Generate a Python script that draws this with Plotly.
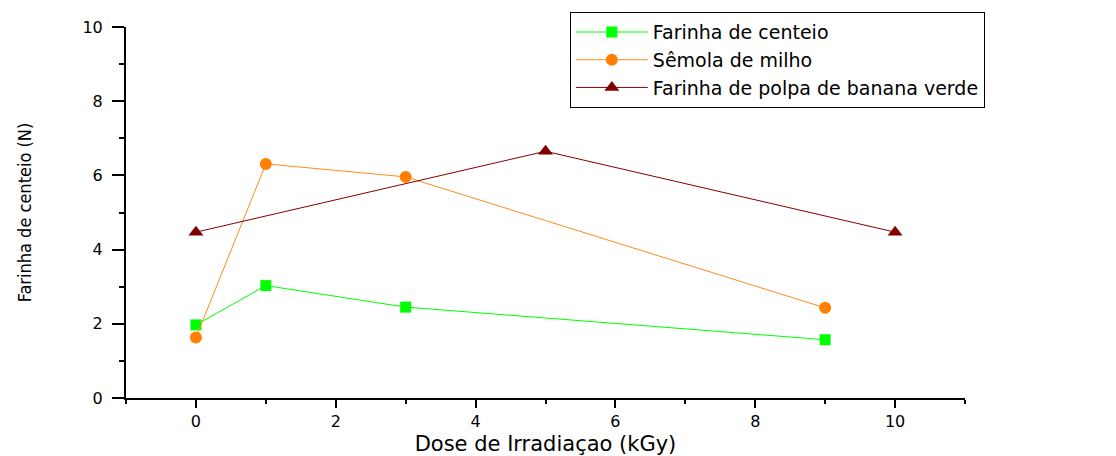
import plotly.graph_objects as go

dose_centeio = [0, 1, 3, 9]
val_centeio = [1.97, 3.03, 2.45, 1.57]

dose_milho = [0, 1, 3, 9]
val_milho = [1.63, 6.31, 5.96, 2.43]

dose_banana = [0, 5, 10]
val_banana = [4.47, 6.65, 4.47]

names = ["Farinha de centeio", "Sêmola de milho", "Farinha de polpa de banana verde"]
x_ticks = [0, 2, 4, 6, 8, 10]
y_ticks = [0, 2, 4, 6, 8, 10]

fig = go.Figure()
fig.add_trace(go.Scatter(x=dose_centeio, y=val_centeio, name=names[0], mode="lines+markers",
                         line=dict(color="#00ff00", width=1),
                         marker=dict(symbol="square", color="#00ff00", size=11)))
fig.add_trace(go.Scatter(x=dose_milho, y=val_milho, name=names[1], mode="lines+markers",
                         line=dict(color="#ff8c1a", width=1),
                         marker=dict(symbol="circle", color="#ff8000", size=12)))
fig.add_trace(go.Scatter(x=dose_banana, y=val_banana, name=names[2], mode="lines+markers",
                         line=dict(color="#800000", width=1),
                         marker=dict(symbol="triangle-up", color="#800000", size=13)))

tickfont = dict(family="DejaVu Sans", size=16, color="black")

fig.update_xaxes(range=[-1, 11], tickmode="array", tickvals=x_ticks, ticktext=[str(v) for v in x_ticks],
                 showline=True, linecolor="black", linewidth=2, ticks="outside",
                 ticklen=8, tickwidth=2, tickcolor="black", showgrid=False, zeroline=False,
                 tickfont=tickfont, automargin=False,
                 minor=dict(ticks="outside", ticklen=4, tickwidth=2, tickcolor="black",
                            tickmode="linear", tick0=-1, dtick=1, showgrid=False),
                 title=dict(text="Dose de Irradiaçao (kGy)",
                            font=dict(family="DejaVu Sans", size=21, color="black"), standoff=7))
fig.update_yaxes(range=[0, 10], tickmode="array", tickvals=y_ticks, ticktext=[str(v) for v in y_ticks],
                 showline=True, linecolor="black", linewidth=2, ticks="outside",
                 ticklen=12, tickwidth=2, tickcolor="black", showgrid=False, zeroline=False,
                 tickfont=tickfont, automargin=False, ticklabelstandoff=6,
                 minor=dict(ticks="outside", ticklen=5, tickwidth=2, tickcolor="black",
                            tickmode="linear", tick0=0, dtick=1, showgrid=False),
                 title=dict(text="Farinha de centeio (N)",
                            font=dict(family="DejaVu Sans Condensed, Liberation Sans", size=18, color="black"),
                            standoff=46))

fig.update_layout(
    width=1116, height=456,
    margin=dict(l=126, r=151, t=27, b=58),
    plot_bgcolor="white", paper_bgcolor="white",
    legend=dict(x=0.529, y=1.04, xanchor="left", yanchor="top",
                bordercolor="black", borderwidth=1, bgcolor="white",
                font=dict(family="DejaVu Sans", size=19, color="black"),
                tracegroupgap=0, itemwidth=72),
    showlegend=True,
)

fig.write_html("out.html")
